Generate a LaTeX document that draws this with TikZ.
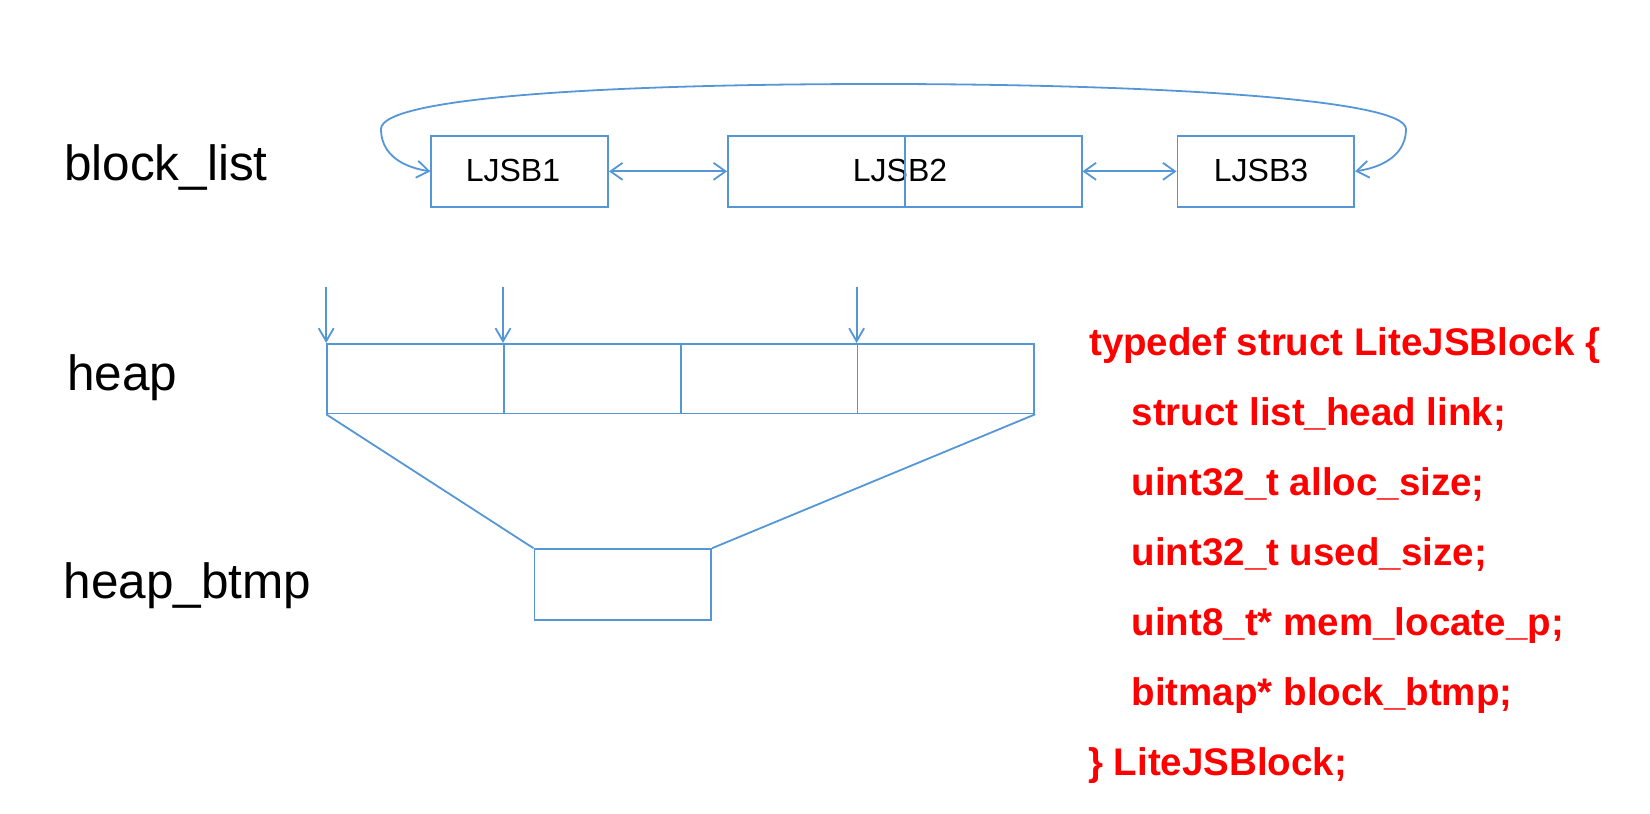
\documentclass[tikz,border=0pt]{standalone}
\usepackage{fontspec}
\setmainfont{Liberation Sans}
\usetikzlibrary{arrows.meta}
\definecolor{lineblue}{RGB}{84,150,214}
\definecolor{codered}{RGB}{255,0,0}
\begin{document}
\begin{tikzpicture}[x=1pt,y=-1pt,
  lbl/.style={inner sep=0pt,anchor=base west,font=\fontsize{49.5}{55}\selectfont,text=black},
  code/.style={inner sep=0pt,anchor=base west,font=\fontsize{38.5}{44}\selectfont\bfseries,text=codered},
  blk/.style={draw=lineblue,line width=1.8pt,inner sep=0pt,anchor=north west,minimum width=176.8pt,minimum height=71.5pt,font=\fontsize{32}{36}\selectfont},
  cell/.style={draw=lineblue,line width=1.8pt,inner sep=0pt,anchor=north west,minimum width=176.8pt,minimum height=69.5pt},
  conn/.style={draw=lineblue,line width=1.8pt},
  tip/.style={-{Straight Barb[length=13pt,width=15pt,line width=1.8pt]}},
  dtip/.style={{Straight Barb[length=12pt,width=17pt,line width=1.8pt]}-{Straight Barb[length=12pt,width=17pt,line width=1.8pt]}}
]
\useasboundingbox (0,0) rectangle (1650,814);

% labels
\node[lbl] (lbllist) at (64,180) {block\_list};
\node[lbl] (lblheap) at (67,390) {heap};
\node[lbl] (lblbtmp) at (63.5,598) {heap\_btmp};

% block list
\node[blk] (b1) at (430.4,134.7) {};
\node[inner sep=0pt,font=\fontsize{32}{36}\selectfont] (b1t) at (513,170.5) {LJSB1};
\node[blk,minimum width=353.6pt] (b2) at (727.1,134.7) {};
\node[inner sep=0pt,font=\fontsize{32}{36}\selectfont] (b2t) at (900,170.5) {LJSB2};
\draw[conn] (b2.north) -- (b2.south);
\node[blk] (b3) at (1176.5,134.7) {};
\node[inner sep=0pt,font=\fontsize{32}{36}\selectfont] (b3t) at (1261,170.5) {LJSB3};

\draw[conn,dtip] (b1.east) -- (b2.west);
\draw[conn,dtip] (b2.east) -- (b3.west);
\draw[conn,dtip] (b1.west) .. controls (396,166) and (381,150) .. (381,129)
  .. controls (381,98) and (600,84) .. (880,84)
  .. controls (1140,84) and (1406,98) .. (1406,129)
  .. controls (1406,150) and (1390,166) .. (b3.east);

% heap
\node[cell] (h1) at (326.2,343) {};
\node[cell] (h2) at (503,343) {};
\node[cell] (h3) at (679.8,343) {};
\node[cell] (h4) at (856.6,343) {};

\coordinate (p1) at (326.2,287);
\coordinate (p2) at (503,287);
\coordinate (p3) at (856.6,287);
\draw[conn,tip] (p1) -- (h1.north west);
\draw[conn,tip] (p2) -- (h2.north west);
\draw[conn,tip] (p3) -- (h4.north west);

% heap_btmp
\node[cell,minimum height=70.5pt] (bt) at (533.5,548.2) {};
\draw[conn] (h1.south west) -- (bt.north west);
\draw[conn] (h4.south east) -- (bt.north east);

% code
\node[code] (c1) at (1089,355) {typedef struct LiteJSBlock \{};
\node[code] (c2) at (1131.5,425) {struct list\_head link;};
\node[code] (c3) at (1131.5,495) {uint32\_t alloc\_size;};
\node[code] (c4) at (1131.5,565) {uint32\_t used\_size;};
\node[code] (c5) at (1131.5,635) {uint8\_t* mem\_locate\_p;};
\node[code] (c6) at (1131.5,705) {bitmap* block\_btmp;};
\node[code] (c7) at (1088,775) {\} LiteJSBlock;};
\end{tikzpicture}
\end{document}
